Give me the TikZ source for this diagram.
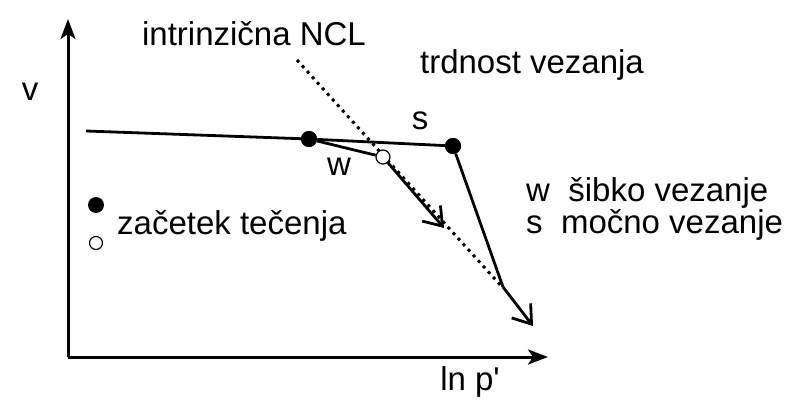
\documentclass[tikz,border=0pt]{standalone}
\usepackage{fontspec}
\setmainfont{Liberation Sans}[Ligatures=TeXOff]
\usetikzlibrary{arrows.meta}
\tikzstyle{axis} = [line width=3pt, -{Stealth[length=20pt, width=15pt, inset=5pt]}]
\tikzstyle{pathline} = [line width=2.8pt]
\tikzstyle{patharrow} = [line width=2.8pt, -{Straight Barb[length=17pt, width=24pt]}]
\tikzstyle{yieldfull} = [circle, fill=black, inner sep=0pt, minimum size=16pt]
\tikzstyle{yieldopen} = [circle, draw=black, fill=white, line width=1.2pt, inner sep=0pt, minimum size=14pt]
\tikzstyle{lbl} = [font=\fontsize{33}{38}\selectfont, inner sep=0pt]

\begin{document}
\begin{tikzpicture}[x=1pt, y=-1pt]
\useasboundingbox (0,0) rectangle (792,403);

% osi
\coordinate (origin) at (68,357);
\coordinate (vtop) at (68,19);
\coordinate (pright) at (548,357);
\draw[axis] (origin) -- (vtop);
\draw[axis] (origin) -- (pright);
\node[lbl] (vlabel) at (30,92) {v};
\node[lbl] (plabel) at (470,382) {ln p'};

% intrinzicna NCL
\coordinate (nclA) at (297,60);
\coordinate (nclB) at (503,288);
\draw[line width=3pt, dash pattern=on 3pt off 4.5pt] (nclA) -- (nclB);
\node[lbl] (ncl) at (254,34) {intrinzična NCL};
\node[lbl] (trdnost) at (532,65) {trdnost vezanja};

% poti
\coordinate (start) at (86,131);
\node[yieldfull] (yw) at (309,139) {};
\node[yieldfull] (ys) at (453,146) {};
\node[yieldopen] (cw) at (383,157) {};
\coordinate (wend) at (444,228);
\coordinate (kink) at (503,287);
\coordinate (send) at (533,326);
\draw[pathline] (start) -- (yw) -- (ys);
\draw[pathline] (yw) -- (cw);
\draw[patharrow] (cw) -- (wend);
\draw[pathline] (ys) -- (kink);
\draw[patharrow] (kink) -- (send);
\node[yieldfull] at (yw) {};
\node[yieldfull] at (ys) {};
\node[lbl] (slabel) at (420,121) {s};
\node[lbl] (wlabel) at (339,167) {w};

% legenda
\node[yieldfull] (legfull) at (96,205) {};
\node[yieldopen, minimum size=13pt] (legopen) at (96,243) {};
\node[lbl, anchor=west] (zacetek) at (117,226) {začetek tečenja};
\node[lbl, anchor=west] (sibko) at (526,193) {w\ \ šibko vezanje};
\node[lbl, anchor=west] (mocno) at (526,225) {s\ \ močno vezanje};
\end{tikzpicture}
\end{document}
